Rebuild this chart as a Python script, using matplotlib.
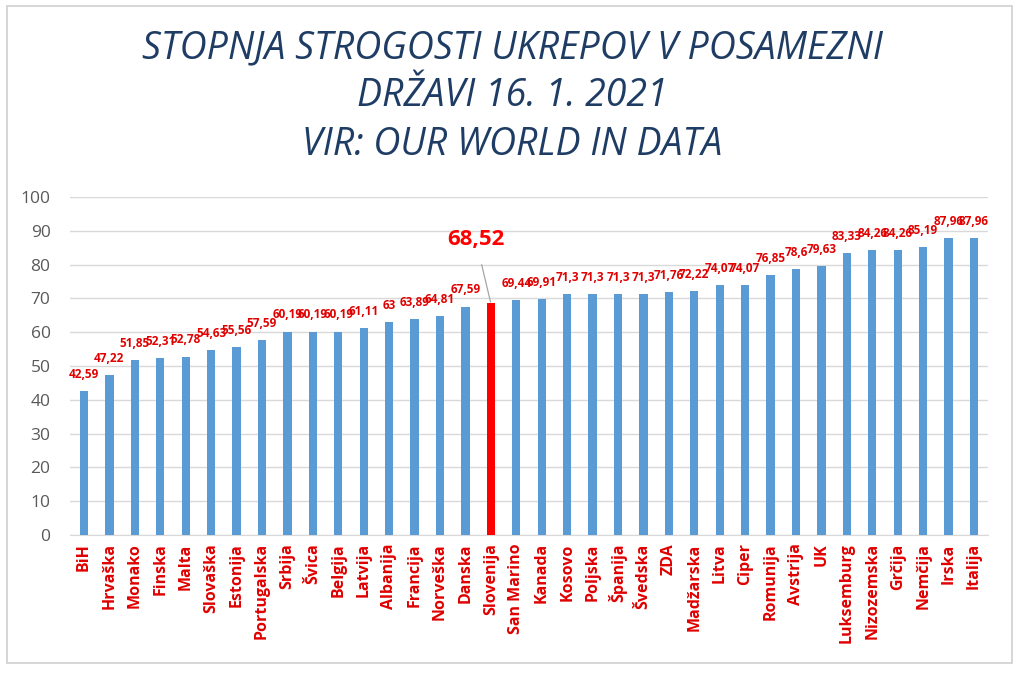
import matplotlib
matplotlib.use("Agg")
import matplotlib.pyplot as plt
from matplotlib.patches import Rectangle

countries = ["BiH", "Hrvaška", "Monako", "Finska", "Malta", "Slovaška", "Estonija",
             "Portugalska", "Srbija", "Švica", "Belgija", "Latvija", "Albanija",
             "Francija", "Norveška", "Danska", "Slovenija", "San Marino", "Kanada",
             "Kosovo", "Poljska", "Španija", "Švedska", "ZDA", "Madžarska", "Litva",
             "Ciper", "Romunija", "Avstrija", "UK", "Luksemburg", "Nizozemska",
             "Grčija", "Nemčija", "Irska", "Italija"]
values = [42.59, 47.22, 51.85, 52.31, 52.78, 54.63, 55.56, 57.59, 60.19, 60.19,
          60.19, 61.11, 63, 63.89, 64.81, 67.59, 68.52, 69.44, 69.91, 71.3, 71.3,
          71.3, 71.3, 71.76, 72.22, 74.07, 74.07, 76.85, 78.6, 79.63, 83.33, 84.26,
          84.26, 85.19, 87.96, 87.96]
highlight = "Slovenija"
title_lines = ["STOPNJA STROGOSTI UKREPOV V POSAMEZNI", "DRŽAVI 16. 1. 2021",
               "VIR: OUR WORLD IN DATA"]
yticks = [0, 10, 20, 30, 40, 50, 60, 70, 80, 90, 100]

def fmt(v):
    s = ("%.2f" % v).rstrip("0").rstrip(".")
    return s.replace(".", ",")

plt.rcParams['font.family'] = ['Open Sans', 'DejaVu Sans']

fig = plt.figure(figsize=(10.24, 6.78), dpi=100)
fig.patches.append(Rectangle((7/1024, 1-663/678), 1005/1024, 657/678,
                             transform=fig.transFigure, fill=False,
                             edgecolor="#D0D0D0", linewidth=1.2))

ax = fig.add_axes([70/1024, 1-535/678, 918/1024, 338/678])
x = list(range(len(countries)))
colors = ["#FF0000" if c == highlight else "#5B9BD5" for c in countries]
ax.bar(x, values, width=0.33, color=colors, zorder=3)
ax.set_xlim(-0.55, len(countries) - 0.45)
ax.set_ylim(0, 100)
ax.set_yticks(yticks)
ax.yaxis.grid(True, color="#D9D9D9", linewidth=1, zorder=0)
for s in ["top", "right", "left"]:
    ax.spines[s].set_visible(False)
ax.spines["bottom"].set_color("#D9D9D9")
ax.tick_params(axis="y", length=0, labelsize=12.5, labelcolor="#595959", pad=14)
ax.tick_params(axis="x", length=0, pad=6)
ax.set_xticks(x)
ax.set_xticklabels(countries, rotation=90, color="#E00000", fontsize=11.5,
                   fontweight="bold")

for i, (c, v) in enumerate(zip(countries, values)):
    if c == highlight:
        ax.annotate(fmt(v), xy=(i, v), xytext=(i - 0.6, v + 19),
                    ha="center", va="center", color="#FF0000", fontsize=16,
                    fontweight="bold",
                    arrowprops=dict(arrowstyle="-", color="#A6A6A6", lw=0.9,
                                    shrinkA=9, shrinkB=1))
    else:
        ax.text(i, v + 3, fmt(v), ha="center", va="bottom", color="#E00000",
                fontsize=8.5, fontweight="bold", zorder=4)

for k, line in enumerate(title_lines):
    fig.text(0.5, 1 - (48 + 48.5 * k) / 678, line, ha="center", va="center",
             fontsize=27, style="italic", color="#1F3D64")

fig.savefig("out.png", dpi=100)
